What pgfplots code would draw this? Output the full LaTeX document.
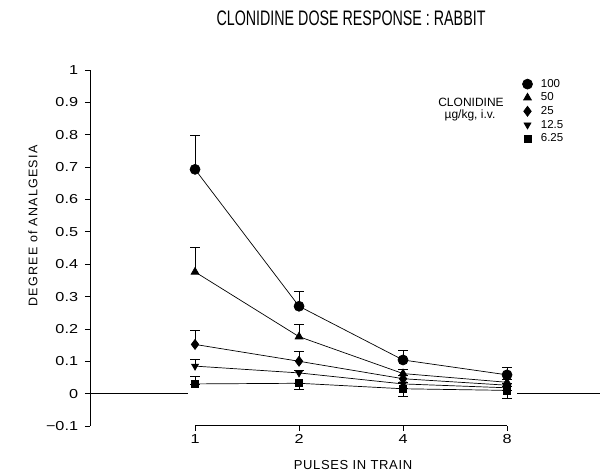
\documentclass[border=0pt]{standalone}
\usepackage{pgfplots}
\pgfplotsset{compat=1.18}
\usepackage{fontspec}
\setmainfont{Liberation Sans}

\begin{document}
\begin{tikzpicture}[x=1pt,y=1pt]
\useasboundingbox (0,0) rectangle (606,473);
\begin{axis}[
  at={(90pt,47pt)}, anchor=south west,
  scale only axis, width=510pt, height=356pt,
  xmin=-1.01, xmax=3.894, ymin=-0.1, ymax=1,
  axis y line*=left, axis x line*=bottom,
  x axis line style={draw=none},
  y axis line style={line width=1pt},
  xtick={0,1,2,3}, xticklabels={1,2,4,8},
  ytick={-0.1,0,0.1,0.2,0.3,0.4,0.5,0.6,0.7,0.8,0.9,1},
  yticklabels={−0.1,0,0.1,0.2,0.3,0.4,0.5,0.6,0.7,0.8,0.9,1},
  tick align=outside, major tick length=5pt,
  tick style={black, line width=0.8pt},
  tick label style={font=\fontsize{13}{13}\selectfont, xscale=1.25},
  yticklabel style={xshift=-2pt},
  clip=false,
  error bars/error mark options={rotate=90, black, mark size=5pt, line width=0.8pt},
  legend cell align=left,
  legend style={at={(axis cs:3.134,0.978)}, anchor=north west,
    draw=none, fill=none, inner sep=0pt, row sep=0pt,
    font=\fontsize{11.5}{11.5}\selectfont,
    nodes={inner sep=0pt, minimum height=13.6pt}},
  legend image code/.code={\path (-6pt,0pt) (13pt,0pt);
    \draw[#1] plot coordinates {(0pt,0pt)};},
]
% 100 ug/kg
\addplot[black, line width=0.7pt, mark=*, mark size=5pt, mark options={fill=black},
  error bars/.cd, y dir=plus, y explicit]
  coordinates {(0,0.693) += (0,0.104) (1,0.270) += (0,0.047)
               (2,0.104) += (0,0.029) (3,0.058) += (0,0.022)};
% 50 ug/kg
\addplot[black, line width=0.7pt, mark=triangle*, mark size=4.5pt, mark options={fill=black},
  error bars/.cd, y dir=plus, y explicit]
  coordinates {(0,0.376) += (0,0.077) (1,0.176) += (0,0.037)
               (2,0.062) += (0,0.012) (3,0.035) += (0,0.008)};
% 25 ug/kg
\addplot[black, line width=0.7pt, mark=diamond*, mark size=5pt, mark options={fill=black},
  error bars/.cd, y dir=plus, y explicit]
  coordinates {(0,0.152) += (0,0.043) (1,0.100) += (0,0.031)
               (2,0.046) += (0,0.010) (3,0.026) += (0,0.006)};
% 12.5 ug/kg
\addplot[black, line width=0.7pt, mark=triangle*, mark size=4pt, mark options={fill=black, rotate=180},
  error bars/.cd, y dir=plus, y explicit]
  coordinates {(0,0.085) += (0,0.022) (1,0.064) += (0,0.008)
               (2,0.030) += (0,0.006) (3,0.018) += (0,0.005)};
% 6.25 ug/kg
\addplot[black, line width=0.7pt, mark=square*, mark size=3.5pt, mark options={fill=black},
  error bars/.cd, y dir=both, y explicit]
  coordinates {(0,0.030) += (0,0.023) -= (0,0)
               (1,0.032) += (0,0) -= (0,0.020)
               (2,0.015) += (0,0) -= (0,0.025)
               (3,0.010) += (0,0) -= (0,0.025)};

\addlegendimage{only marks, mark=*, mark size=5pt, fill=black}
\addlegendentry{100}
\addlegendimage{only marks, mark=triangle*, mark size=3.6pt, fill=black}
\addlegendentry{50}
\addlegendimage{only marks, mark=diamond*, mark size=4.5pt, fill=black}
\addlegendentry{25}
\addlegendimage{only marks, mark=triangle*, mark size=3.6pt, fill=black, mark options={rotate=180}}
\addlegendentry{12.5}
\addlegendimage{only marks, mark=square*, mark size=3.5pt, fill=black}
\addlegendentry{6.25}

% x axis segment and the zero baseline outside the data range
\draw[line width=1pt] (axis cs:0,-0.1) -- (axis cs:3,-0.1);
\draw[line width=0.8pt] (axis cs:-1.01,0) -- (axis cs:-0.07,0);
\draw[line width=0.8pt] (axis cs:3.1,0) -- (axis cs:3.894,0);
\end{axis}

\node at (351,455) {\scalebox{0.68}[1]{\fontsize{21}{21}\selectfont CLONIDINE DOSE RESPONSE : RABBIT}};
\node[rotate=90] at (33,247) {\fontsize{12.5}{12.5}\selectfont\addfontfeature{LetterSpace=10}DEGREE of ANALGESIA};
\node at (353,8) {\fontsize{13}{13}\selectfont\addfontfeature{LetterSpace=5}PULSES IN TRAIN};
\node at (471,371) {\fontsize{12}{12}\selectfont CLONIDINE};
\node at (470,358) {\fontsize{12}{12}\selectfont µg/kg, i.v.};
\end{tikzpicture}
\end{document}
